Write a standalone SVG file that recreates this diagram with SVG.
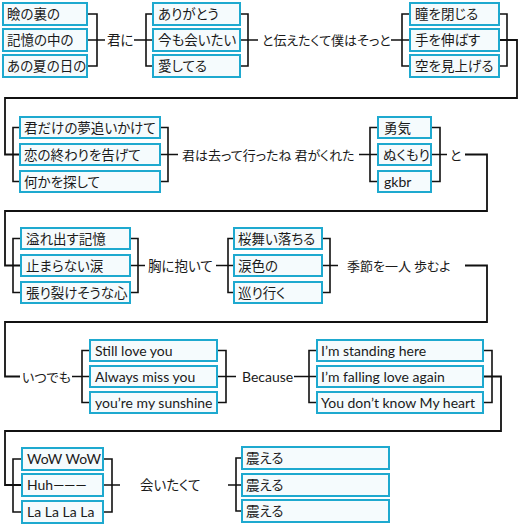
<svg xmlns="http://www.w3.org/2000/svg" width="520" height="525" viewBox="0 0 520 525">
<style>
.box{fill:#f5fbfd;stroke:#1ea9cf;stroke-width:2}
.t{font-family:"Noto Sans CJK JP","Noto Sans",sans-serif;font-size:13.5px;fill:#1a1a1a;font-feature-settings:"palt"}
.e{font-family:"Lato","Open Sans",sans-serif;font-size:14px;fill:#1a1a1a}
.f{font-family:"Noto Sans CJK JP","Noto Sans",sans-serif;font-size:13px;fill:#1a1a1a;font-feature-settings:"palt"}
.c{fill:none;stroke:#111;stroke-width:1.6}
.r{fill:none;stroke:#111;stroke-width:1.8}
</style>
<rect width="520" height="525" fill="#fff"/>
<g id="connectors">
<path class="c" d="M87 14H97V66H87M87 40H105"/>
<path class="c" d="M134 40H146M153 14H146V66H153M146 40H153"/>
<path class="c" d="M240 14H248V66H240M240 40H258"/>
<path class="c" d="M391 40H402M410 14H402V66H410M402 40H410"/>
<path class="c" d="M499 14H507V66H499"/>
<path class="r" d="M499 40H517V98H5V154.5H20"/>
<path class="c" d="M20 127.5H13V181.5H20"/>
<path class="c" d="M160 127.5H168V181.5H160M160 154.5H178"/>
<path class="c" d="M359 154.5H370M378 127.5H370V181.5H378M370 154.5H378"/>
<path class="c" d="M431 127.5H440V181.5H431M431 154.5H447"/>
<path class="r" d="M465 154.5H487V211H5V265.5H21"/>
<path class="c" d="M21 238.5H13V292.5H21"/>
<path class="c" d="M130 238.5H138V292.5H130M130 265.5H145"/>
<path class="c" d="M216 265.5H228M234 238.5H228V292.5H234M228 265.5H234"/>
<path class="c" d="M322 238.5H330V292.5H322M322 265.5H338"/>
<path class="r" d="M465 265.5H487V322H5V376.5H20"/>
<path class="c" d="M72 376.5H82M90 350.5H82V402.5H90M82 376.5H90"/>
<path class="c" d="M217 350.5H226V402.5H217M217 376.5H236"/>
<path class="c" d="M294 376.5H309M317 350.5H309V402.5H317M309 376.5H317"/>
<path class="c" d="M483 350.5H492V402.5H483"/>
<path class="r" d="M483 376.5H501V431H5V485H22"/>
<path class="c" d="M22 459H13V512H22"/>
<path class="c" d="M103 459H112V512H103M103 485H120"/>
<path class="c" d="M228 485H236M242 458H236V511H242M236 485H242"/>
</g>
<g id="n1"><rect class="box" x="3" y="3" width="84" height="22"/><text class="t" x="7" y="19">瞼の裏の</text></g>
<g id="n2"><rect class="box" x="3" y="29" width="84" height="22"/><text class="t" x="7" y="45">記憶の中の</text></g>
<g id="n3"><rect class="box" x="3" y="55" width="84" height="22"/><text class="t" x="7" y="71">あの夏の日の</text></g>
<g id="n4"><text class="t" x="107" y="45">君に</text></g>
<g id="n5"><rect class="box" x="153" y="3" width="87" height="22"/><text class="t" x="158" y="19">ありがとう</text></g>
<g id="n6"><rect class="box" x="153" y="29" width="87" height="22"/><text class="t" x="158" y="45">今も会いたい</text></g>
<g id="n7"><rect class="box" x="153" y="55" width="87" height="22"/><text class="t" x="158" y="71">愛してる</text></g>
<g id="n8"><text class="f" x="262" y="45">と伝えたくて僕はそっと</text></g>
<g id="n9"><rect class="box" x="410" y="3" width="89" height="22"/><text class="t" x="415" y="19">瞳を閉じる</text></g>
<g id="n10"><rect class="box" x="410" y="29" width="89" height="22"/><text class="t" x="415" y="45">手を伸ばす</text></g>
<g id="n11"><rect class="box" x="410" y="55" width="89" height="22"/><text class="t" x="415" y="71">空を見上げる</text></g>
<g id="n12"><rect class="box" x="20" y="117" width="140" height="21"/><text class="t" x="24" y="132.5">君だけの夢追いかけて</text></g>
<g id="n13"><rect class="box" x="20" y="144" width="140" height="21"/><text class="t" x="24" y="159.5">恋の終わりを告げて</text></g>
<g id="n14"><rect class="box" x="20" y="171" width="140" height="21"/><text class="t" x="24" y="186.5">何かを探して</text></g>
<g id="n15"><text class="f" x="182" y="159.5">君は去って行ったね 君がくれた</text></g>
<g id="n16"><rect class="box" x="378" y="117" width="53" height="21"/><text class="t" x="384" y="132.5">勇気</text></g>
<g id="n17"><rect class="box" x="378" y="144" width="53" height="21"/><text class="t" x="383" y="159.5">ぬくもり</text></g>
<g id="n18"><rect class="box" x="378" y="171" width="53" height="21"/><text class="e" x="384" y="186.5">gkbr</text></g>
<g id="n19"><text class="f" x="450" y="159.5">と</text></g>
<g id="n20"><rect class="box" x="21" y="228" width="109" height="21"/><text class="t" x="26" y="243.5">溢れ出す記憶</text></g>
<g id="n21"><rect class="box" x="21" y="255" width="109" height="21"/><text class="t" x="26" y="270.5">止まらない涙</text></g>
<g id="n22"><rect class="box" x="21" y="282" width="109" height="21"/><text class="t" x="26" y="297.5">張り裂けそうな心</text></g>
<g id="n23"><text class="t" x="148" y="271">胸に抱いて</text></g>
<g id="n24"><rect class="box" x="234" y="228" width="88" height="21"/><text class="t" x="238" y="243.5">桜舞い落ちる</text></g>
<g id="n25"><rect class="box" x="234" y="255" width="88" height="21"/><text class="t" x="238" y="270.5">涙色の</text></g>
<g id="n26"><rect class="box" x="234" y="282" width="88" height="21"/><text class="t" x="238" y="297.5">巡り行く</text></g>
<g id="n27"><text class="f" x="347" y="271">季節を一人 歩むよ</text></g>
<g id="n28"><text class="f" x="22" y="382">いつでも</text></g>
<g id="n29"><rect class="box" x="90" y="340" width="127" height="21"/><text class="e" x="95" y="355.5">Still love you</text></g>
<g id="n30"><rect class="box" x="90" y="366" width="127" height="21"/><text class="e" x="95" y="381.5">Always miss you</text></g>
<g id="n31"><rect class="box" x="90" y="392" width="127" height="21"/><text class="e" x="95" y="407.5">you’re my sunshine</text></g>
<g id="n32"><text class="e" x="242" y="381.5">Because</text></g>
<g id="n33"><rect class="box" x="317" y="340" width="166" height="21"/><text class="e" x="321" y="355.5">I’m standing here</text></g>
<g id="n34"><rect class="box" x="317" y="366" width="166" height="21"/><text class="e" x="321" y="381.5">I’m falling love again</text></g>
<g id="n35"><rect class="box" x="317" y="392" width="166" height="21"/><text class="e" x="321" y="407.5">You don’t know My heart</text></g>
<g id="n36"><rect class="box" x="22" y="448" width="81" height="22"/><text class="e" x="27" y="464">WoW WoW</text></g>
<g id="n37"><rect class="box" x="22" y="474" width="81" height="22"/><text class="e" x="27" y="490">Huh———</text></g>
<g id="n38"><rect class="box" x="22" y="501" width="81" height="22"/><text class="e" x="27" y="517">La La La La</text></g>
<g id="n39"><text class="t" x="140" y="490">会いたくて</text></g>
<g id="n40"><rect class="box" x="242" y="447" width="147" height="22"/><text class="t" x="246" y="463">震える</text></g>
<g id="n41"><rect class="box" x="242" y="474" width="147" height="22"/><text class="t" x="246" y="490">震える</text></g>
<g id="n42"><rect class="box" x="242" y="500" width="147" height="22"/><text class="t" x="246" y="516">震える</text></g>
</svg>
